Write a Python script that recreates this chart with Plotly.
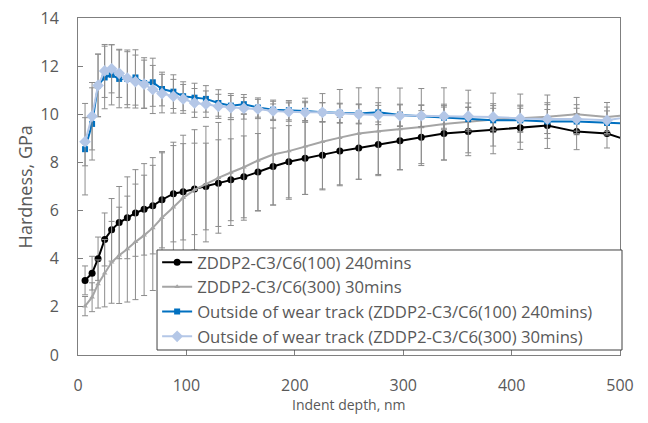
import plotly.graph_objects as go

depth = [6.5, 13, 18.5, 24.6, 31, 38, 45.5, 53, 61, 69, 77.5, 88, 97, 107.5, 118, 129.5,
         141, 153, 166, 180, 194.5, 209.5, 225.5, 241.5, 259, 277, 297, 316.7, 337.6,
         360, 383, 408, 433, 460, 488, 515]

h_100_240 = [3.1, 3.4, 4.0, 4.8, 5.2, 5.5, 5.7, 5.9, 6.05, 6.2, 6.45, 6.7, 6.78, 6.9, 7.0, 7.14,
             7.28, 7.4, 7.6, 7.83, 8.03, 8.17, 8.3, 8.47, 8.6, 8.75, 8.9, 9.05, 9.2,
             9.28, 9.36, 9.44, 9.53, 9.28, 9.2, 8.8]
e_100_240 = [0.6, 0.7, 0.9, 1.1, 1.3, 1.5, 1.7, 1.8, 1.9, 2.0, 2.0, 2.0, 2.0, 1.9, 1.8, 1.8,
             1.7, 1.7, 1.6, 1.6, 1.5, 1.5, 1.4, 1.4, 1.3, 1.3, 1.2, 1.1, 1.1,
             1.0, 1.0, 0.9, 0.95, 0.75, 0.6, 0.6]

h_300_30 = [2.03, 2.4, 2.95, 3.4, 3.85, 4.14, 4.4, 4.7, 4.97, 5.28, 5.7, 6.14, 6.53, 6.86, 7.1, 7.36,
            7.58, 7.8, 8.08, 8.33, 8.47, 8.67, 8.86, 9.03, 9.2, 9.3, 9.39, 9.47, 9.6,
            9.7, 9.78, 9.84, 9.9, 10.0, 9.89, 10.0]
e_300_30 = [0.4, 0.6, 1.0, 1.4, 1.7, 2.0, 2.2, 2.4, 2.5, 2.6, 2.7, 2.7, 2.6, 2.5, 2.4, 2.3,
            2.2, 2.2, 2.1, 2.1, 2.0, 2.0, 2.0, 2.0, 1.9, 1.8, 1.7, 1.6, 1.5,
            1.3, 1.1, 1.0, 0.9, 0.7, 0.6, 0.6]

h_out_100 = [8.55, 9.6, 11.2, 11.53, 11.64, 11.47, 11.47, 11.53, 11.3, 11.33, 11.05, 10.94, 10.75, 10.69, 10.64, 10.47,
             10.36, 10.42, 10.28, 10.19, 10.17, 10.14, 10.08, 10.06, 10.03, 10.08, 9.97, 9.92, 9.86,
             9.8, 9.75, 9.75, 9.7, 9.7, 9.64, 9.6]
e_out_100 = [1.9, 1.5, 1.3, 1.3, 1.25, 1.2, 1.2, 1.15, 1.05, 1.0, 0.7, 0.7, 0.6, 0.6, 0.55, 0.55,
             0.5, 0.4, 0.4, 0.4, 0.4, 0.4, 0.4, 0.4, 0.4, 0.4, 0.45, 0.45, 0.5,
             0.5, 0.5, 0.5, 0.5, 0.55, 0.5, 0.5]

h_out_300 = [8.86, 9.92, 11.2, 11.8, 11.89, 11.7, 11.5, 11.36, 11.25, 11.03, 10.86, 10.75, 10.64, 10.47, 10.42, 10.33,
             10.28, 10.25, 10.22, 10.14, 10.11, 10.08, 10.08, 10.03, 10.0, 9.97, 9.94, 9.94, 9.92,
             9.92, 9.89, 9.83, 9.8, 9.8, 9.75, 9.95]
e_out_300 = [1.0, 1.4, 1.3, 1.1, 1.0, 1.0, 1.1, 1.1, 1.0, 1.0, 0.8, 0.7, 0.6, 0.6, 0.55, 0.5,
             0.5, 0.45, 0.4, 0.4, 0.4, 0.4, 0.4, 0.4, 0.4, 0.4, 0.45, 0.45, 0.5,
             0.55, 0.55, 0.55, 0.6, 0.6, 0.55, 0.5]

names = ["ZDDP2-C3/C6(100) 240mins", "ZDDP2-C3/C6(300) 30mins",
         "Outside of wear track (ZDDP2-C3/C6(100) 240mins)",
         "Outside of wear track (ZDDP2-C3/C6(300) 30mins)"]

FONT = "Open Sans"
TXT = "#595959"
ERR = "#8c8c8c"

fig = go.Figure()

def add(y, e, name, color, symbol, size, width):
    fig.add_trace(go.Scatter(
        x=depth, y=y, name=name, mode="lines+markers",
        line=dict(color=color, width=width),
        marker=dict(color=color, symbol=symbol, size=size, line=dict(width=0)),
        error_y=dict(type="data", array=e, visible=True, color=ERR, thickness=1, width=3),
    ))

add(h_100_240, e_100_240, names[0], "#000000", "circle", 7, 2)
add(h_300_30, e_300_30, names[1], "#a5a5a5", "triangle-up", 5, 2)
add(h_out_100, e_out_100, names[2], "#0070c0", "square", 6, 2)
add(h_out_300, e_out_300, names[3], "#b4c7e7", "diamond", 9, 2)

axis_common = dict(
    showline=True, linecolor="#7f7f7f", linewidth=1, mirror=True,
    showgrid=False, zeroline=False, ticks="inside", ticklen=5,
    tickcolor="#7f7f7f", tickfont=dict(family=FONT, size=16, color=TXT),
    automargin=False, ticklabeloverflow="allow",
)

fig.update_layout(
    width=648, height=423,
    margin=dict(l=70, r=36, t=10, b=76),
    paper_bgcolor="white", plot_bgcolor="white",
    font=dict(family=FONT, color=TXT),
    xaxis=dict(range=[0, 500], dtick=100, ticklabelstandoff=16, **axis_common),
    yaxis=dict(range=[0, 14], dtick=2, ticklabelstandoff=15, **axis_common),
    legend=dict(x=0.146, y=0.327, xanchor="left", yanchor="top",
                borderwidth=0, bgcolor="rgba(0,0,0,0)",
                font=dict(family=FONT, size=16.7, color=TXT),
                tracegroupgap=0, itemsizing="trace"),
    showlegend=True,
    shapes=[dict(type="rect", xref="paper", yref="paper",
                 x0=0.1458, x1=1.0037, y0=0.0148, y1=0.3116,
                 line=dict(color="#404040", width=1), fillcolor="white", layer="above")],
    annotations=[
        dict(text="Indent depth, nm", xref="paper", yref="paper", x=0.5, y=-0.148,
             xanchor="center", yanchor="middle", showarrow=False,
             font=dict(family=FONT, size=14, color=TXT)),
        dict(text="Hardness, GPa", xref="paper", yref="paper", x=-0.098, y=0.5,
             xanchor="center", yanchor="middle", showarrow=False, textangle=-90,
             font=dict(family=FONT, size=18, color=TXT)),
    ],
)

fig.write_html("out.html")
